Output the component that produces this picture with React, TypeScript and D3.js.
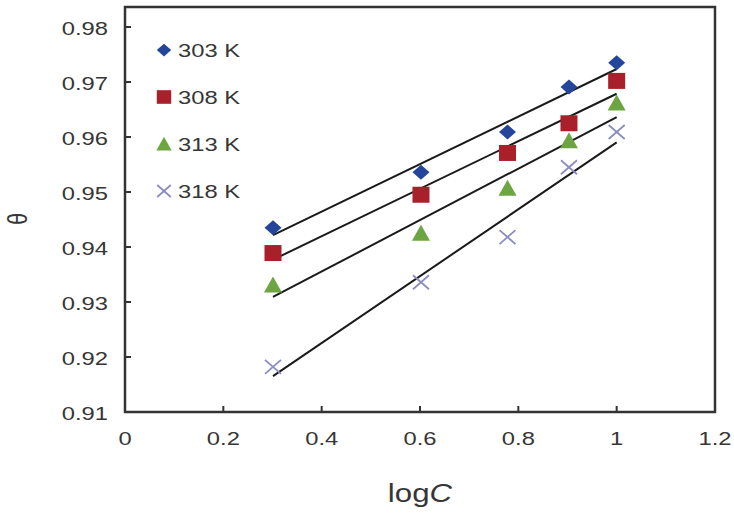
import React from "react";
import * as d3 from "d3";

const logC = [0.301, 0.602, 0.778, 0.903, 1.0];
const theta303 = [0.9435, 0.9536, 0.9609, 0.9691, 0.9735];
const theta308 = [0.9389, 0.9495, 0.9571, 0.9625, 0.9702];
const theta313 = [0.9331, 0.9425, 0.9507, 0.9593, 0.9662];
const theta318 = [0.9182, 0.9336, 0.9418, 0.9545, 0.9609];
const seriesNames = ["303 K", "308 K", "313 K", "318 K"];
const xTicks = [0, 0.2, 0.4, 0.6, 0.8, 1, 1.2];
const yTicks = [0.91, 0.92, 0.93, 0.94, 0.95, 0.96, 0.97, 0.98];

const W = 734;
const H = 515;
const left = 125;
const right = 715;
const top = 7;
const bottom = 412;
const SX = 1.25;

const x = d3.scaleLinear().domain([0, 1.2]).range([left, right]);
const y = d3.scaleLinear().domain([0.91, 0.98]).range([bottom, 27]);

const font = "'Liberation Sans', Arial, sans-serif";
const textColor = "#363636";

const series = [
  { name: seriesNames[0], values: theta303, color: "#25459b", shape: "diamond" },
  { name: seriesNames[1], values: theta308, color: "#a8202a", shape: "square" },
  { name: seriesNames[2], values: theta313, color: "#6ea543", shape: "triangle" },
  { name: seriesNames[3], values: theta318, color: "#8a8dc0", shape: "cross" },
];

function fit(xs: number[], ys: number[]) {
  const mx = d3.mean(xs)!;
  const my = d3.mean(ys)!;
  let sxy = 0, sxx = 0;
  xs.forEach((v, i) => {
    sxy += (v - mx) * (ys[i] - my);
    sxx += (v - mx) * (v - mx);
  });
  const b = sxy / sxx;
  return (v: number) => my + b * (v - mx);
}

function T({ x, y, anchor = "start", size, dy, children, rotate }: any) {
  return (
    <text
      transform={`translate(${x},${y}) scale(${SX},1)${rotate ? ` rotate(${rotate})` : ""}`}
      textAnchor={anchor}
      fontSize={size}
      dy={dy}
      fill={textColor}
    >
      {children}
    </text>
  );
}

function Marker({ shape, cx, cy, color, k = 1 }: { shape: string; cx: number; cy: number; color: string; k?: number }) {
  if (shape === "diamond") {
    const rx = 8.5 * k, ry = 7.5 * k;
    return <path d={`M${cx},${cy - ry}L${cx + rx},${cy}L${cx},${cy + ry}L${cx - rx},${cy}Z`} fill={color} />;
  }
  if (shape === "square") {
    const w = 17 * k, h = 16 * k;
    return <rect x={cx - w / 2} y={cy - h / 2} width={w} height={h} fill={color} />;
  }
  if (shape === "triangle") {
    const h = 15 * k, w = 18 * k;
    return <path d={`M${cx},${cy - h / 2 - 1}L${cx + w / 2},${cy + h / 2}L${cx - w / 2},${cy + h / 2}Z`} fill={color} />;
  }
  const rx = 8 * k, ry = 7 * k;
  return (
    <g stroke={color} strokeWidth={1.8}>
      <line x1={cx - rx} y1={cy - ry} x2={cx + rx} y2={cy + ry} />
      <line x1={cx - rx} y1={cy + ry} x2={cx + rx} y2={cy - ry} />
    </g>
  );
}

export default function App() {
  const x0 = d3.min(logC)!;
  const x1 = d3.max(logC)!;
  return (
    <svg width={W} height={H} style={{ position: "absolute", left: 0, top: 0, background: "#fff" }} fontFamily={font}>
      <rect x={0} y={0} width={W} height={H} fill="#fff" />
      {/* regression lines */}
      {series.map((s) => {
        const f = fit(logC, s.values);
        return (
          <line key={s.name + "l"} x1={x(x0)} y1={y(f(x0))} x2={x(x1)} y2={y(f(x1))} stroke="#1a1a1a" strokeWidth={2} />
        );
      })}
      {/* points */}
      {series.map((s) =>
        s.values.map((v, i) => <Marker key={s.name + i} shape={s.shape} cx={x(logC[i])} cy={y(v)} color={s.color} />)
      )}
      {/* frame */}
      <rect x={left} y={top} width={right - left} height={bottom - top} fill="none" stroke="#333" strokeWidth={2.5} />
      {/* y ticks */}
      {yTicks.map((t) => (
        <g key={"y" + t}>
          <line x1={left} x2={left + 6} y1={y(t)} y2={y(t)} stroke="#333" strokeWidth={2} />
          <T x={108} y={y(t) + 1} anchor="end" size={19} dy="0.35em">
            {t.toFixed(2)}
          </T>
        </g>
      ))}
      {/* x ticks */}
      {xTicks.map((t) => (
        <g key={"x" + t}>
          {t > 0 && t < 1.2 && <line x1={x(t)} x2={x(t)} y1={bottom} y2={bottom - 6} stroke="#333" strokeWidth={2} />}
          <T x={x(t)} y={445} anchor="middle" size={19}>
            {String(t)}
          </T>
        </g>
      ))}
      {/* axis titles */}
      <T x={420} y={502} anchor="middle" size={25}>
        log<tspan fontStyle="italic">C</tspan>
      </T>
      <T x={17} y={219} anchor="middle" size={22} dy="0.35em" rotate={-90}>
        θ
      </T>
      {/* legend */}
      {series.map((s, i) => {
        const cy = 50 + i * 47;
        return (
          <g key={s.name + "lg"}>
            <Marker shape={s.shape} cx={164} cy={cy} color={s.color} k={0.85} />
            <T x={178} y={cy} size={19} dy="0.36em">
              {s.name}
            </T>
          </g>
        );
      })}
    </svg>
  );
}
